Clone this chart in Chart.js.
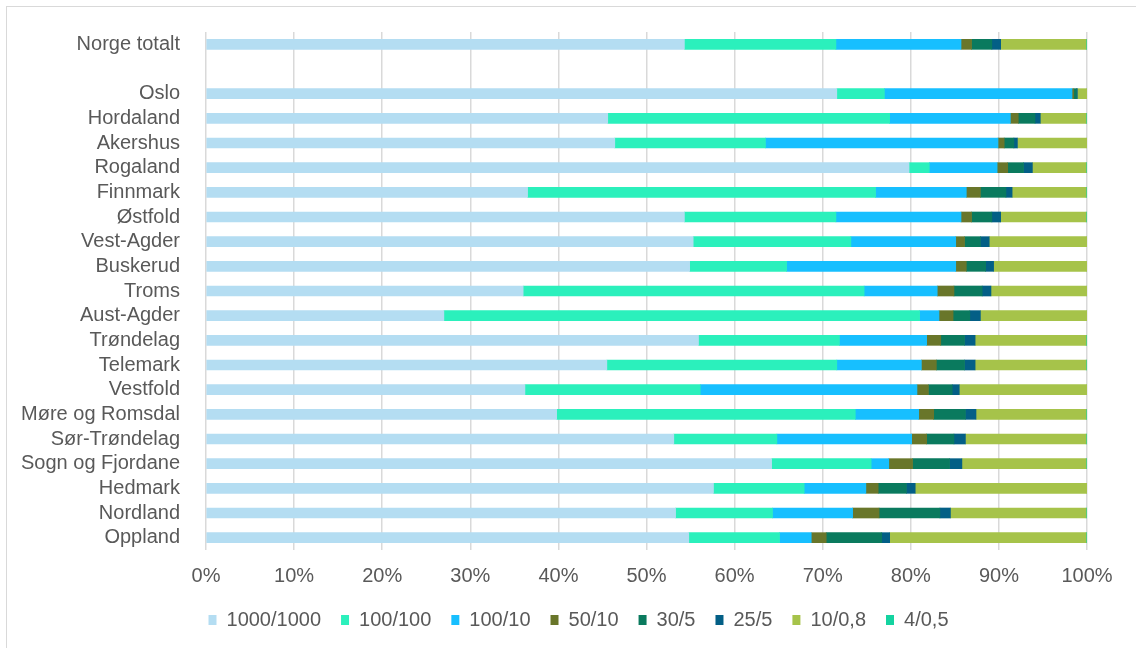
<!DOCTYPE html>
<html>
<head>
<meta charset="utf-8">
<script src="https://cdn.jsdelivr.net/npm/chart.js@4/dist/chart.umd.min.js"></script>
<style>
    html, body { margin: 0; padding: 0; background: #fff; overflow: hidden; }
    #frame {
        position: absolute; left: 6px; top: 6px;
        width: 1200px; height: 700px;
        border: 1.5px solid #d9d9d9;
    }
    #wrap { position: absolute; left: 0; top: 0; width: 1136px; height: 648px; }
</style>
</head>
<body>
<div id="frame"></div>
<div id="wrap"><canvas id="speedChart"></canvas></div>
<script>
// Share of households by broadband speed class (Mbit/s down/up), per county
const counties = [
    'Norge totalt', '', 'Oslo', 'Hordaland', 'Akershus', 'Rogaland', 'Finnmark',
    'Østfold', 'Vest-Agder', 'Buskerud', 'Troms', 'Aust-Agder', 'Trøndelag',
    'Telemark', 'Vestfold', 'Møre og Romsdal', 'Sør-Trøndelag', 'Sogn og Fjordane',
    'Hedmark', 'Nordland', 'Oppland'
];

const speedClasses = ['1000/1000', '100/100', '100/10', '50/10', '30/5', '25/5', '10/0,8', '4/0,5'];

const s1000_1000 = [54.3, null, 71.6, 45.6, 46.4, 79.8, 36.5, 54.3, 55.3, 54.9, 36.0, 27.0, 55.9, 45.5, 36.2, 39.8, 53.1, 64.2, 57.6, 53.3, 54.8];
const s100_100   = [17.2, null,  5.4, 32.0, 17.1,  2.3, 39.5, 17.2, 17.9, 11.0, 38.7, 54.0, 16.0, 26.1, 19.9, 33.9, 11.7, 11.3, 10.3, 11.0, 10.3];
const s100_10    = [14.2, null, 21.3, 13.7, 26.4,  7.7, 10.3, 14.2, 11.9, 19.2,  8.3,  2.2,  9.9,  9.6, 24.6,  7.2, 15.3,  2.0,  7.0,  9.1,  3.6];
const s50_10     = [ 1.2, null,  0.2,  0.9,  0.7,  1.2,  1.6,  1.2,  1.0,  1.2,  1.9,  1.6,  1.6,  1.7,  1.3,  1.7,  1.7,  2.7,  1.4,  3.0,  1.7];
const s30_5      = [ 2.3, null,  0.3,  1.9,  1.1,  1.8,  2.9,  2.3,  1.8,  2.2,  3.2,  1.9,  2.7,  3.2,  2.7,  3.6,  3.1,  4.2,  3.2,  6.9,  6.3];
const s25_5      = [ 1.0, null,  0.1,  0.6,  0.4,  1.0,  0.7,  1.0,  1.0,  0.9,  1.0,  1.2,  1.2,  1.2,  0.8,  1.2,  1.3,  1.4,  1.0,  1.2,  0.9];
const s10_08     = [ 9.7, null,  1.1,  5.2,  7.9,  6.1,  8.4,  9.7, 11.1, 10.6, 10.9, 12.1, 12.6, 12.6, 14.5, 12.5, 13.7, 14.1, 19.5, 15.4, 22.3];
const s4_05      = [ 0.1, null,  0.0,  0.1,  0.0,  0.1,  0.1,  0.1,  0.0,  0.0,  0.0,  0.0,  0.1,  0.1,  0.0,  0.1,  0.1,  0.1,  0.0,  0.1,  0.1];

const seriesValues = [s1000_1000, s100_100, s100_10, s50_10, s30_5, s25_5, s10_08, s4_05];
const seriesColors = ['#b4ddf2', '#2bf0bc', '#17bfff', '#69762a', '#0a7a5e', '#035f86', '#a6c34a', '#14d3a0'];

const xTicks = [0, 10, 20, 30, 40, 50, 60, 70, 80, 90, 100];

const textColor = '#595959';
const gridColor = '#d9d9d9';
const fontFamily = '"Liberation Sans", Arial, sans-serif';

// Nudge the centred legend row to the right, without touching the axis labels
const legendOffset = {
    id: 'legendOffset',
    afterLayout(chart) {
        const legend = chart.legend;
        if (!legend) return;
        legend.left += 70;
        legend.width = legend.right - legend.left;
    }
};

function createSpeedChart(canvasId) {
    const canvas = document.getElementById(canvasId);
    if (!canvas) {
        console.error(`Canvas element ${canvasId} not found`);
        return;
    }

    new Chart(canvas, {
        type: 'bar',
        data: {
            labels: counties,
            datasets: speedClasses.map((name, i) => ({
                label: name,
                data: seriesValues[i],
                backgroundColor: seriesColors[i],
                borderWidth: 0,
                barThickness: 10
            }))
        },
        options: {
            indexAxis: 'y',
            responsive: true,
            maintainAspectRatio: false,
            animation: false,
            layout: {
                padding: { top: 32, right: 49, bottom: 8, left: 0 }
            },
            plugins: {
                title: { display: false },
                tooltip: { enabled: false },
                legend: {
                    position: 'bottom',
                    labels: {
                        boxWidth: 8,
                        boxHeight: 10,
                        padding: 20,
                        color: textColor,
                        font: { family: fontFamily, size: 20 }
                    }
                }
            },
            scales: {
                x: {
                    stacked: true,
                    min: 0,
                    max: 100,
                    afterBuildTicks: function(scale) {
                        scale.ticks = xTicks.map(v => ({ value: v }));
                    },
                    afterFit: function(scale) {
                        scale.height = 40;
                    },
                    ticks: {
                        color: textColor,
                        padding: 14,
                        font: { family: fontFamily, size: 20 },
                        callback: function(value) {
                            return value + '%';
                        }
                    },
                    grid: {
                        color: gridColor,
                        lineWidth: 1.5,
                        drawTicks: false
                    },
                    border: { display: false }
                },
                y: {
                    stacked: true,
                    afterFit: function(scale) {
                        scale.width = 206;
                    },
                    ticks: {
                        color: textColor,
                        padding: 18,
                        autoSkip: false,
                        font: { family: fontFamily, size: 20 }
                    },
                    grid: { display: false },
                    border: { display: false }
                }
            }
        },
        plugins: [legendOffset]
    });
}

createSpeedChart('speedChart');
</script>
</body>
</html>
